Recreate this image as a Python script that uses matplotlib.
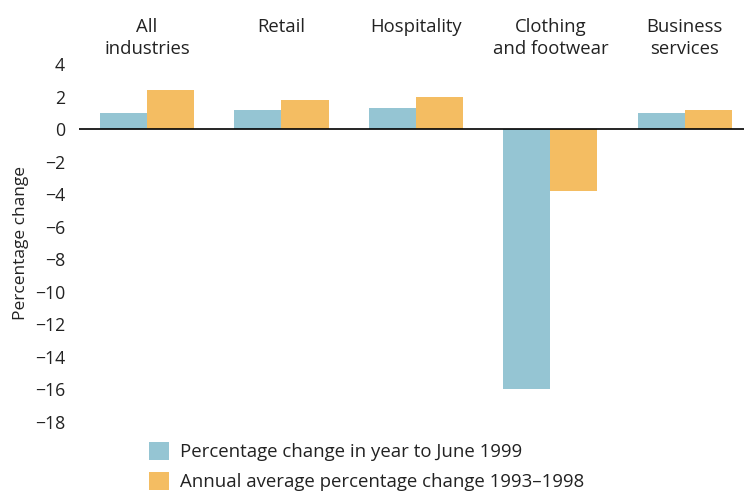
import numpy as np
import matplotlib.pyplot as plt
from matplotlib.patches import Patch
import matplotlib.transforms as mtransforms

plt.rcParams['font.family'] = ['Open Sans', 'DejaVu Sans']

# 各行业价格变化（%）
industries = ['All\nindustries', 'Retail', 'Hospitality', 'Clothing\nand footwear', 'Business\nservices']
change_1999 = [1.0, 1.2, 1.3, -16.0, 1.0]
avg_93_98 = [2.4, 1.8, 2.0, -3.8, 1.2]
series_names = ['Percentage change in year to June 1999',
                'Annual average percentage change 1993–1998']
yticks = list(range(4, -19, -2))

c_blue = '#95C5D3'
c_orange = '#F4BD62'
txt = '#222222'

fig = plt.figure(figsize=(7.44, 4.92), dpi=100)
ax = fig.add_axes([79 / 744, 70 / 492, 665 / 744, 358 / 492])

x = np.arange(len(industries))
w = 0.35
ax.bar(x - w / 2, change_1999, w, color=c_blue)
ax.bar(x + w / 2, avg_93_98, w, color=c_orange)
ax.axhline(0, color='black', lw=1.2)

ax.set_xlim(-0.506, 4.44)
ax.set_ylim(-18, 4)
ax.set_yticks(yticks)
ax.tick_params(axis='y', length=0, labelsize=12.7, pad=10, colors=txt)
ax.set_xticks([])
for s in ax.spines.values():
    s.set_visible(False)

ax.set_ylabel('Percentage change', fontsize=12.5, color=txt, labelpad=4)

# 行业名称放在图顶部
trans = mtransforms.blended_transform_factory(ax.transData, ax.transAxes)
for i, name in enumerate(industries):
    ax.text(i, 1.128, name, transform=trans, ha='center', va='top',
            fontsize=13.3, color=txt, linespacing=1.3)

handles = [Patch(facecolor=c_blue), Patch(facecolor=c_orange)]
fig.legend(handles, series_names, loc='upper left',
           bbox_to_anchor=(149 / 744, 1 - 442 / 492), bbox_transform=fig.transFigure,
           frameon=False, fontsize=13.4, handlelength=1.08, handleheight=1.08,
           handletextpad=0.6, labelspacing=0.6, borderpad=0, borderaxespad=0,
           labelcolor=txt)

fig.savefig('out.png', dpi=100)
